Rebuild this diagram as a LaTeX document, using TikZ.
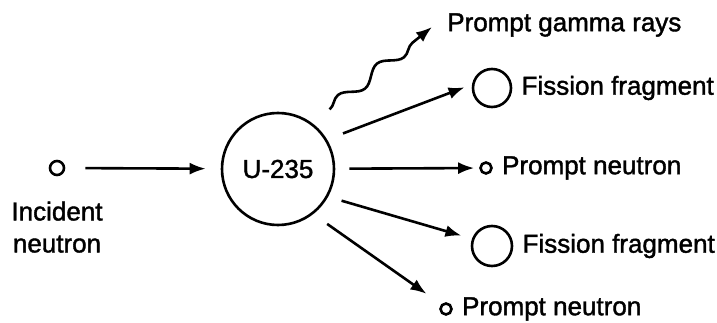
\documentclass[tikz,border=0pt]{standalone}
\usepackage{fontspec}
\setmainfont[FakeBold=1.5]{Liberation Sans}
\usetikzlibrary{positioning,arrows.meta,decorations.pathmorphing,calc}

\begin{document}
\begin{tikzpicture}[x=1pt,y=-1pt,
	line width=2.6pt,
	font=\fontsize{26}{32}\selectfont,
	particle/.style={circle,draw,inner sep=0pt},
	txt/.style={inner sep=0pt,anchor=west},
	ray/.style={-{Latex[length=16pt,width=12pt]}}]

			\useasboundingbox (0,0) rectangle (717,323);

			% particles
			\node[particle,minimum size=14pt] (incident) at (57,168) {};
			\node[particle,minimum size=112pt] (u235) at (278,169) {U-235};
			\node[particle,minimum size=38pt] (frag1) at (492,88) {};
			\node[particle,minimum size=11pt] (neut1) at (486,168) {};
			\node[particle,minimum size=40pt] (frag2) at (492,246) {};
			\node[particle,minimum size=11pt] (neut2) at (446,309) {};
			\coordinate (gammaend) at (432,27);

			% labels
			\node[inner sep=0pt,align=center,below=24pt of incident] (incidentlabel) {Incident\\neutron};
			\node[txt] (gammalabel) at (446,25) {Prompt gamma rays};
			\node[txt,right=8pt of frag1] (frag1label) {Fission fragment};
			\node[txt,right=8pt of neut1] (neut1label) {Prompt neutron};
			\node[txt,right=8pt of frag2] (frag2label) {Fission fragment};
			\node[txt,right=8pt of neut2] (neut2label) {Prompt neutron};

			% reactions
			\draw[ray,shorten <=20pt,shorten >=15pt] (incident) -- (u235);
			\draw[ray,decorate,decoration={snake,amplitude=6pt,segment length=50pt,post length=16pt}]
				($(u235.53)!22pt!(gammaend)$) -- (gammaend);
			\draw[ray,shorten <=17pt,shorten >=8pt] (u235.31) -- (frag1.170);
			\draw[ray,shorten <=14pt,shorten >=5pt] (u235) -- (neut1);
			\draw[ray,shorten <=14pt,shorten >=11pt] (u235.-29) -- (frag2.160);
			\draw[ray,shorten <=17pt,shorten >=18pt] (u235.-52) -- (neut2.135);
\end{tikzpicture}
\end{document}
